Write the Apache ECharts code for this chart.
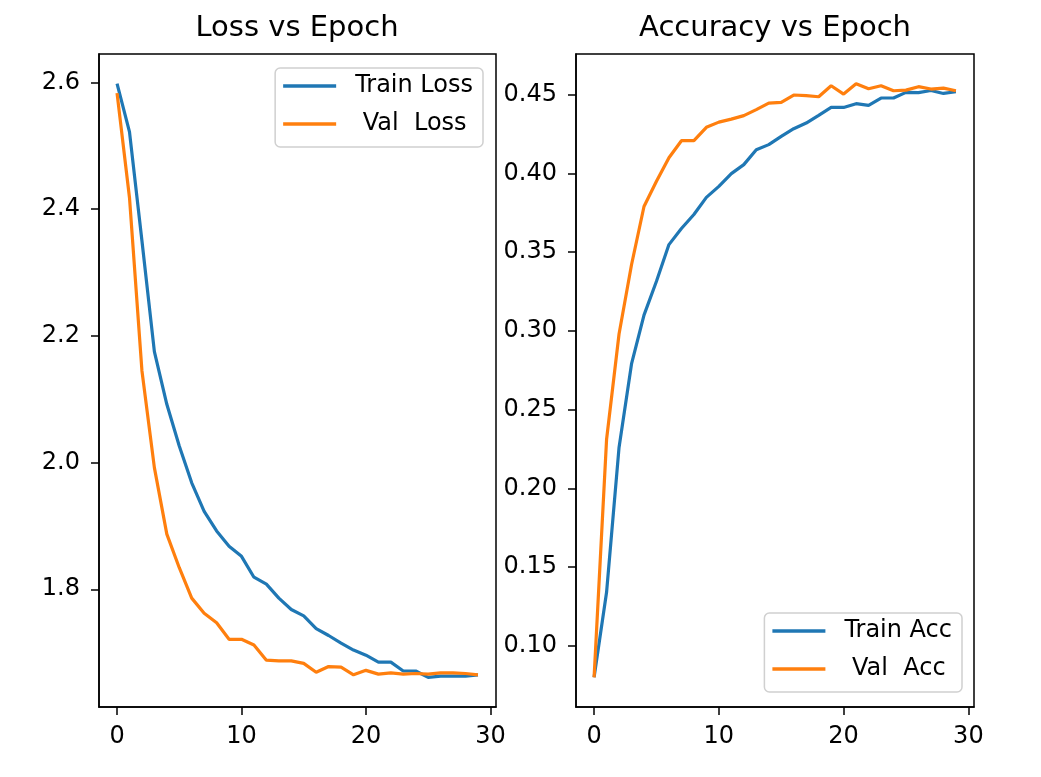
<!DOCTYPE html>
<html>
<head>
<meta charset="utf-8">
<script src="https://cdn.jsdelivr.net/npm/echarts@6/dist/echarts.min.js"></script>
<style>
html,body{margin:0;padding:0;background:#fff;}
#c{width:1041px;height:777px;}
</style>
</head>
<body>
<div id="c"></div>
<script>
const epochs = [0,1,2,3,4,5,6,7,8,9,10,11,12,13,14,15,16,17,18,19,20,21,22,23,24,25,26,27,28,29];
const trainLoss = [2.598,2.522,2.35,2.175,2.092,2.026,1.968,1.923,1.892,1.868,1.852,1.819,1.808,1.786,1.768,1.758,1.738,1.727,1.715,1.704,1.696,1.685,1.685,1.671,1.671,1.661,1.663,1.663,1.663,1.665];
const valLoss = [2.583,2.418,2.145,1.992,1.887,1.834,1.786,1.762,1.747,1.721,1.721,1.712,1.688,1.687,1.687,1.683,1.669,1.678,1.677,1.665,1.672,1.666,1.668,1.666,1.667,1.666,1.668,1.668,1.667,1.665];
const trainAcc = [0.080,0.134,0.226,0.279,0.310,0.3315,0.3548,0.365,0.3739,0.3848,0.3918,0.3999,0.4056,0.4151,0.4183,0.4235,0.4284,0.432,0.4369,0.4419,0.4419,0.4443,0.4432,0.4479,0.4479,0.4515,0.4513,0.4527,0.4508,0.4519];
const valAcc = [0.080,0.231,0.298,0.342,0.379,0.395,0.410,0.4208,0.4208,0.4293,0.4326,0.4345,0.4367,0.4405,0.4447,0.4451,0.4498,0.4494,0.4487,0.4557,0.4504,0.457,0.4538,0.4557,0.4525,0.4529,0.4551,0.4536,0.4542,0.4525];
const xTicks = [0,10,20,30];
const lossTicks = [1.8,2.0,2.2,2.4,2.6];
const accTicks = [0.10,0.15,0.20,0.25,0.30,0.35,0.40,0.45];
const titles = ['Loss vs Epoch','Accuracy vs Epoch'];
const names = ['Train Loss',' Val  Loss','Train Acc',' Val  Acc'];

const FONT = 'DejaVu Sans';
const BLUE = '#1f77b4', ORANGE = '#ff7f0e';

function pad(arrs){
  const all = [].concat(...arrs);
  const lo = Math.min(...all), hi = Math.max(...all);
  const m = (hi-lo)*0.05;
  return [lo-m, hi+m];
}
const xr = pad([epochs]);
const lr = pad([trainLoss,valLoss]);
const ar = pad([trainAcc,valAcc]);
const zip = (a) => epochs.map((e,i)=>[e,a[i]]);

function xAxis(idx){
  return {
    type:'value', gridIndex:idx, min:xr[0], max:xr[1],
    axisLine:{show:true,onZero:false,lineStyle:{color:'#000',width:1.5}},
    axisTick:{show:true,customValues:xTicks,length:8,lineStyle:{color:'#000',width:1.5}},
    axisLabel:{customValues:xTicks,margin:18,fontFamily:FONT,fontSize:24,color:'#000'},
    splitLine:{show:false}
  };
}
function yAxis(idx,r,ticks,dec){
  return {
    type:'value', gridIndex:idx, min:r[0], max:r[1],
    axisLine:{show:true,onZero:false,lineStyle:{color:'#000',width:1.5}},
    axisTick:{show:true,customValues:ticks,length:8,lineStyle:{color:'#000',width:1.5}},
    axisLabel:{customValues:ticks,margin:19,fontFamily:FONT,fontSize:24,color:'#000',formatter:(v)=>v.toFixed(dec)},
    splitLine:{show:false}
  };
}
function legend(data,pos){
  return Object.assign({
    orient:'vertical', data:data, icon:'rect', itemWidth:53, itemHeight:3.3,
    itemGap:14, padding:[6,10,11,8],
    backgroundColor:'rgba(255,255,255,0.8)', borderColor:'#d0d0d0', borderWidth:1.5, borderRadius:5,
    textStyle:{fontFamily:FONT,fontSize:24,color:'#000',padding:[0,0,0,14]},
    selectedMode:false
  },pos);
}
function line(name,data,xi,color){
  return {type:'line',name:name,xAxisIndex:xi,yAxisIndex:xi,data:data,showSymbol:false,symbol:'none',
    lineStyle:{color:color,width:3.2},itemStyle:{color:color},animation:false};
}

const chart = echarts.init(document.getElementById('c'),null,{renderer:'canvas'});
chart.setOption({
  animation:false,
  backgroundColor:'#fff',
  title:[
    {text:titles[0],left:297,top:14,padding:0,textAlign:'center',textStyle:{fontFamily:FONT,fontSize:29,fontWeight:'normal',color:'#000'}},
    {text:titles[1],left:775,top:14,padding:0,textAlign:'center',textStyle:{fontFamily:FONT,fontSize:29,fontWeight:'normal',color:'#000'}}
  ],
  grid:[
    {left:99,top:54,width:397,height:653,show:true,borderColor:'#000',borderWidth:1.5,containLabel:false},
    {left:576,top:54,width:398,height:653,show:true,borderColor:'#000',borderWidth:1.5,containLabel:false}
  ],
  legend:[
    legend([names[0],names[1]],{right:1041-483,top:68}),
    legend([names[2],names[3]],{right:1041-962,top:613})
  ],
  xAxis:[xAxis(0),xAxis(1)],
  yAxis:[yAxis(0,lr,lossTicks,1),yAxis(1,ar,accTicks,2)],
  series:[
    line(names[0],zip(trainLoss),0,BLUE),
    line(names[1],zip(valLoss),0,ORANGE),
    line(names[2],zip(trainAcc),1,BLUE),
    line(names[3],zip(valAcc),1,ORANGE)
  ]
});
</script>
</body>
</html>
